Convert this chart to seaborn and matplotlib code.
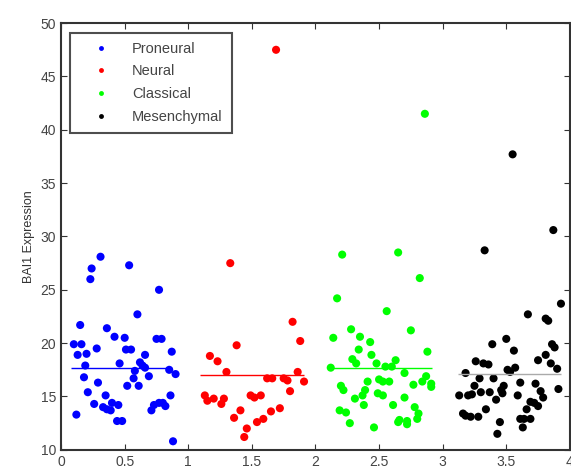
import pandas as pd
import matplotlib
matplotlib.use("Agg")
import matplotlib.pyplot as plt
import seaborn as sns

groups = ["Proneural", "Neural", "Classical", "Mesenchymal"]
colors = ["#0000ff", "#ff0000", "#00ff00", "#000000"]
line_colors = ["#0000ff", "#ff0000", "#00ff00", "#aaaaaa"]

# x-jitter and expression values
pro_x = [0.31, 0.24, 0.23, 0.535, 0.77, 0.60, 0.15, 0.36, 0.42, 0.50, 0.10, 0.16,
         0.28, 0.51, 0.55, 0.75, 0.79, 0.13, 0.20, 0.66, 0.87, 0.62, 0.19, 0.46,
         0.64, 0.66, 0.58, 0.69, 0.85, 0.90, 0.18, 0.57, 0.29, 0.52, 0.61, 0.21,
         0.35, 0.86, 0.26, 0.33, 0.36, 0.39, 0.40, 0.45, 0.71, 0.73, 0.77, 0.80,
         0.82, 0.12, 0.44, 0.48, 0.88]
pro_y = [28.1, 27.0, 26.0, 27.3, 25.0, 22.7, 21.7, 21.4, 20.6, 20.5, 19.9, 19.9,
         19.5, 19.4, 19.4, 20.4, 20.4, 18.9, 19.0, 18.9, 19.2, 18.2, 17.9, 18.1,
         17.9, 17.7, 17.4, 16.9, 17.5, 17.1, 16.8, 16.7, 16.3, 16.0, 16.0, 15.4,
         15.1, 15.1, 14.3, 14.0, 13.8, 13.7, 14.4, 14.2, 13.7, 14.2, 14.4, 14.4,
         14.1, 13.3, 12.7, 12.7, 10.8]

neu_x = [1.69, 1.33, 1.38, 1.82, 1.88, 1.17, 1.23, 1.30, 1.86, 1.62, 1.66, 1.75,
         1.78, 1.91, 1.80, 1.13, 1.15, 1.20, 1.26, 1.28, 1.49, 1.52, 1.57, 1.41,
         1.36, 1.46, 1.44, 1.54, 1.59, 1.65, 1.72]
neu_y = [47.5, 27.5, 19.8, 22.0, 20.2, 18.8, 18.3, 17.3, 17.3, 16.7, 16.7, 16.7,
         16.5, 16.4, 15.5, 15.1, 14.6, 14.8, 14.3, 14.8, 15.1, 14.9, 15.1, 13.7,
         13.0, 12.0, 11.2, 12.6, 12.9, 13.6, 13.9]

cla_x = [2.86, 2.21, 2.65, 2.82, 2.17, 2.56, 2.28, 2.75, 2.14, 2.35, 2.43, 2.34,
         2.88, 2.44, 2.29, 2.32, 2.63, 2.48, 2.12, 2.55, 2.60, 2.70, 2.87, 2.84,
         2.91, 2.91, 2.41, 2.50, 2.53, 2.58, 2.20, 2.22, 2.77, 2.39, 2.37, 2.49,
         2.53, 2.31, 2.70, 2.38, 2.61, 2.78, 2.81, 2.80, 2.19, 2.24, 2.27, 2.46,
         2.66, 2.65, 2.72, 2.72]
cla_y = [41.5, 28.3, 28.5, 26.1, 24.2, 23.0, 21.3, 21.2, 20.5, 20.6, 20.1, 19.4,
         19.2, 18.9, 18.5, 18.1, 18.4, 18.1, 17.7, 17.8, 17.8, 17.2, 16.9, 16.4,
         16.2, 15.9, 16.4, 16.6, 16.4, 16.4, 16.0, 15.6, 16.1, 15.6, 15.1, 15.3,
         15.1, 14.8, 14.9, 14.2, 14.2, 14.0, 13.4, 12.9, 13.7, 13.5, 12.5, 12.1,
         12.8, 12.6, 12.7, 12.4]

mes_x = [3.55, 3.87, 3.33, 3.93, 3.67, 3.81, 3.83, 3.39, 3.50, 3.56, 3.86, 3.88,
         3.81, 3.75, 3.85, 3.90, 3.26, 3.32, 3.36, 3.18, 3.57, 3.51, 3.53, 3.29,
         3.40, 3.61, 3.73, 3.25, 3.48, 3.46, 3.91, 3.30, 3.37, 3.13, 3.20, 3.23,
         3.47, 3.42, 3.59, 3.77, 3.79, 3.69, 3.72, 3.75, 3.66, 3.34, 3.16, 3.18,
         3.22, 3.28, 3.61, 3.64, 3.69, 3.63, 3.45, 3.43]
mes_y = [37.7, 30.6, 28.7, 23.7, 22.7, 22.3, 22.1, 19.9, 20.4, 19.3, 19.9, 19.6,
         18.9, 18.4, 18.1, 17.6, 18.3, 18.1, 18.0, 17.2, 17.7, 17.5, 17.3, 16.7,
         16.7, 16.3, 16.2, 16.0, 16.0, 15.6, 15.7, 15.4, 15.4, 15.1, 15.1, 15.2,
         15.3, 14.7, 15.1, 15.5, 14.9, 14.5, 14.4, 14.1, 13.8, 13.8, 13.4, 13.2,
         13.1, 13.1, 12.9, 12.9, 12.9, 12.1, 12.6, 11.5]

# horizontal group lines: level, start, end
line_levels = [17.65, 17.0, 17.65, 17.1]
line_start = [0.08, 1.09, 2.10, 3.12]
line_end = [0.87, 1.91, 2.92, 3.93]

xs = [pro_x, neu_x, cla_x, mes_x]
ys = [pro_y, neu_y, cla_y, mes_y]
df = pd.concat([pd.DataFrame({"x": x, "y": y, "group": g}) for x, y, g in zip(xs, ys, groups)],
               ignore_index=True)

sns.set_style("ticks")
plt.rcParams["font.family"] = ["Liberation Sans", "DejaVu Sans"]
plt.rcParams["xtick.direction"] = "in"
plt.rcParams["ytick.direction"] = "in"

fig = plt.figure(figsize=(5.71, 4.72), dpi=100)
ax = fig.add_axes([0.107, 0.047, 0.891, 0.904])

sns.scatterplot(data=df, x="x", y="y", hue="group", hue_order=groups, palette=colors,
                s=34, linewidth=0, ax=ax, legend=True)

for lvl, a, b, c in zip(line_levels, line_start, line_end, line_colors):
    ax.hlines(lvl, a, b, colors=c, linewidth=1)

ax.set_xlim(0, 4)
ax.set_ylim(10, 50)
ax.set_xticks([0, 0.5, 1, 1.5, 2, 2.5, 3, 3.5, 4])
ax.set_xticklabels(["0", "0.5", "1", "1.5", "2", "2.5", "3", "3.5", "4"])
ax.set_yticks(range(10, 51, 5))
ax.tick_params(top=True, right=True, labelsize=10, length=4, width=0.8, colors="#333333",
               labelcolor="#444444")
for sp in ax.spines.values():
    sp.set_linewidth(1.5)
    sp.set_color("#333333")
ax.set_xlabel("")
ax.set_ylabel("BAI1 Expression", fontsize=9, color="#333333")

leg = ax.legend(loc="upper left", bbox_to_anchor=(0.018, 0.977), borderaxespad=0,
                fancybox=False, frameon=True, fontsize=10.5, handlelength=3.0,
                handletextpad=0.65, borderpad=0.6, labelspacing=0.6, markerscale=0.6)
leg.get_frame().set_edgecolor("#222222")
leg.get_frame().set_linewidth(1.5)
for t in leg.get_texts():
    t.set_color("#444444")

fig.savefig("out.png", dpi=100)
